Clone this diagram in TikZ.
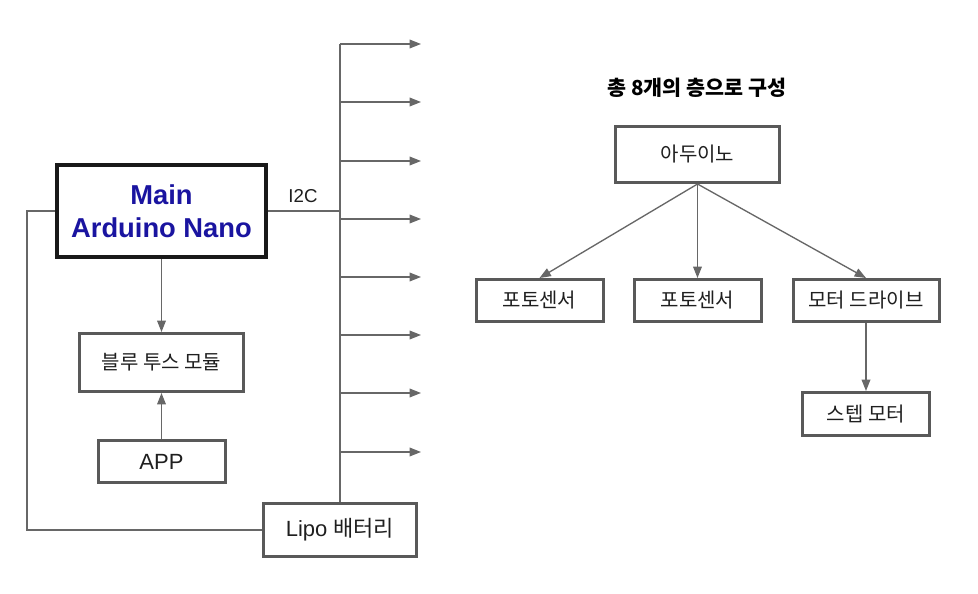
\documentclass[tikz,border=0pt]{standalone}
\usepackage{fontspec}
\setmainfont{Liberation Sans}
\newfontfamily\krfont{Noto Sans CJK KR}
\usetikzlibrary{positioning,arrows.meta}
\definecolor{boxgray}{HTML}{595959}
\definecolor{linegray}{HTML}{676767}
\definecolor{nanoblue}{HTML}{1A14A0}
\tikzset{
  >={Triangle[length=8.5pt,width=6.5pt]},
  box/.style={draw=boxgray, line width=2.25pt, fill=white, text=black!88,
    inner sep=0pt, font=\fontsize{16.5}{19}\selectfont},
  mainbox/.style={box, draw=black!90, line width=3pt, text=nanoblue, align=center,
    font=\fontsize{20.5}{24.75}\selectfont\bfseries},
  krbox/.style={box, font=\fontsize{15}{17}\selectfont\krfont},
  wire/.style={draw=linegray, line width=1pt},
  arrow/.style={wire, ->},
}

\begin{document}
\begin{tikzpicture}[x=0.75pt, y=-0.75pt]
  \useasboundingbox (0,0) rectangle (978,593);

  % Left side
  \node[mainbox, minimum width=156.75pt, minimum height=69pt] (main) at (161.5,211) {Main\\Arduino Nano};
  \node[krbox, minimum width=123pt, minimum height=43.5pt, below=54.75pt of main] (bt) {블루 투스 모듈};
  \node[box, minimum width=95.25pt, minimum height=31.5pt, below=34.5pt of bt] (app) {APP};
  \node[box, minimum width=114.75pt, minimum height=39.75pt] (lipo) at (340,530) {Lipo {\krfont 배터리}};
  \node[font=\fontsize{14}{16}\selectfont, text=black!88] (i2c) at (303,196) {I2C};

  % Right side
  \node[font=\fontsize{15.5}{18}\selectfont\krfont\bfseries] (title) at (697,88) {총 8개의 층으로 구성};
  \node[krbox, minimum width=123pt, minimum height=42pt] (ard) at (697.5,154.5) {아두이노};
  \node[krbox, minimum width=95.25pt, minimum height=31.5pt, below=70.5pt of ard] (ph2) {포토센서};
  \node[krbox, minimum width=95.25pt, minimum height=31.5pt, left=21pt of ph2] (ph1) {포토센서};
  \node[krbox, minimum width=109.5pt, minimum height=31.5pt, right=21.75pt of ph2] (drv) {모터 드라이브};
  \node[krbox, minimum width=95.25pt, minimum height=32.25pt, below=51pt of drv] (step) {스텝 모터};

  % Bus
  \foreach \y [count=\i] in {44,102,161,219,277,335,393,452} {
    \coordinate (tap\i) at (340,\y);
    \coordinate (out\i) at (421,\y);
    \draw[arrow] (tap\i) -- (out\i);
  }
  \draw[wire] (lipo.north) -- (tap1);

  % Connections
  \draw[wire] (main.east) -- (main.east -| lipo.north);
  \draw[wire] (main.west) -- ++(-28,0) |- (lipo.west);
  \draw[arrow] (main.south) -- (bt.north);
  \draw[arrow] (app.north) -- (bt.south);
  \draw[arrow] (ard.south) -- (ph1.north);
  \draw[arrow] (ard.south) -- (ph2.north);
  \draw[arrow] (ard.south) -- (drv.north);
  \draw[arrow] (drv.south) -- (step.north);
\end{tikzpicture}
\end{document}
